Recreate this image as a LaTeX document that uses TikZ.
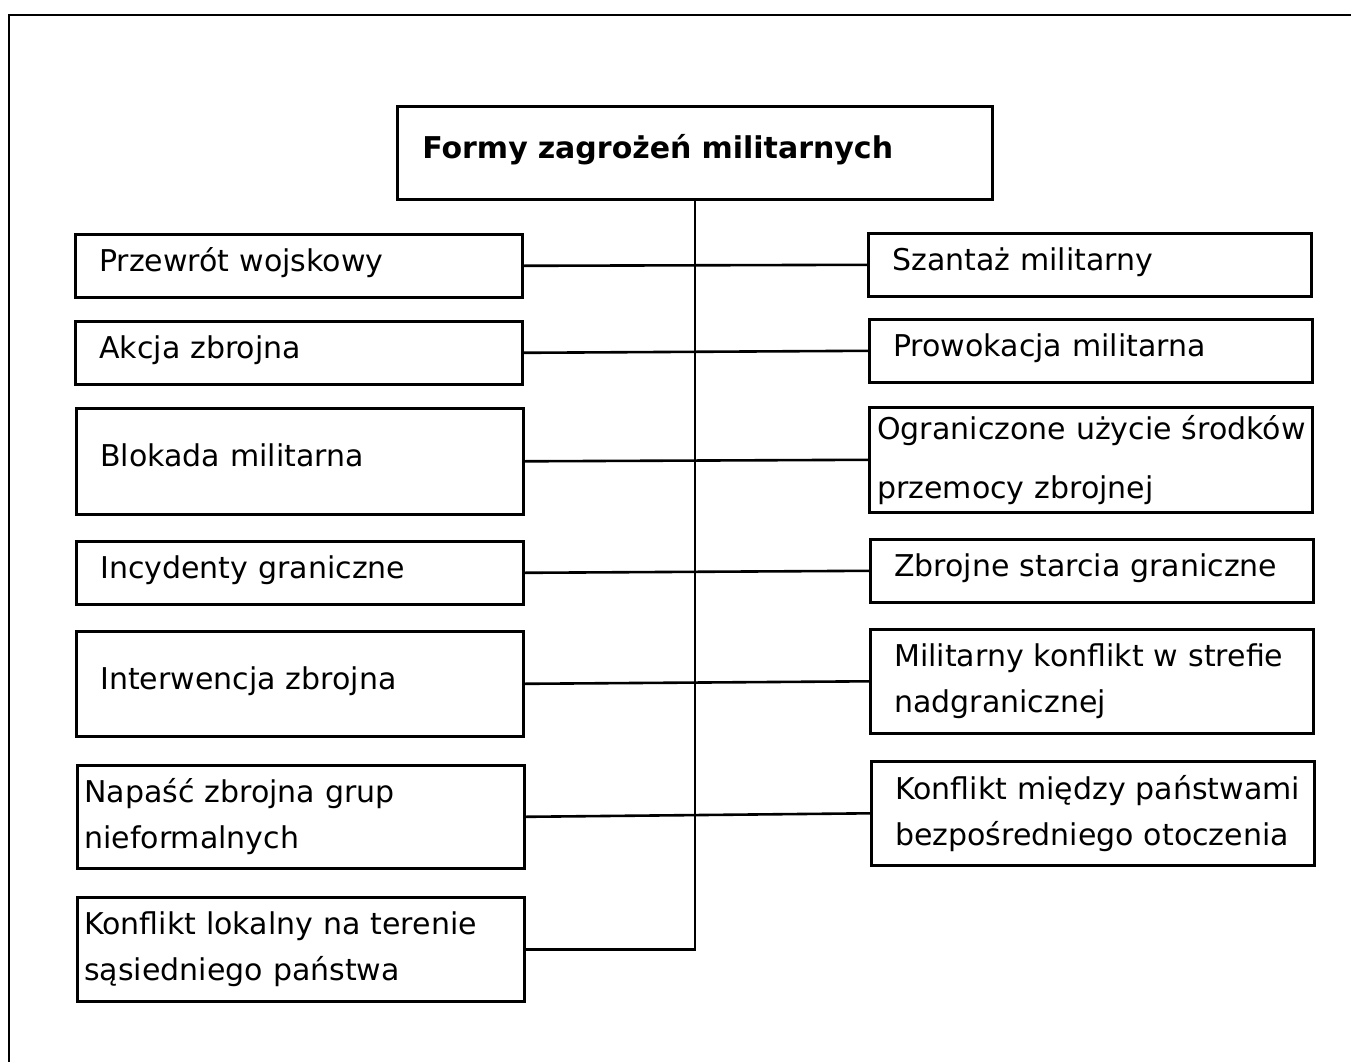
\documentclass[tikz,border=0pt]{standalone}
\usepackage{fontspec}
\setmainfont{DejaVu Sans}
\begin{document}
\begin{tikzpicture}[x=1pt,y=-1pt,
  lw/.style={line width=2.6pt},
  box/.style={draw,lw,anchor=north west,align=left,inner ysep=0pt,
    font=\fontsize{30}{46}\selectfont},
  one/.style={text height=20pt,text depth=9pt},
  lbox/.style={box,inner xsep=24pt,text width=399pt},
  nbox/.style={box,inner xsep=7pt,text width=433pt},
  rbox/.style={box,inner xsep=24pt,text width=395pt},
  conn/.style={lw}]
\useasboundingbox (0,0) rectangle (1351,1062);
\draw[lw] (9,1062) -- (9,15) -- (1351,15);
% title
\node[draw,lw,anchor=north west,minimum height=93pt,inner xsep=25pt,text width=545pt,align=left,
  text height=20pt,text depth=9pt,
  font=\bfseries\fontsize{30}{36}\selectfont] (title) at (396,105) {Formy zagrożeń militarnych};
% left column
\node[lbox,one,minimum height=63pt] (l1) at (74,233) {Przewrót wojskowy};
\node[lbox,one,minimum height=63pt] (l2) at (74,320) {Akcja zbrojna};
\node[lbox,one,minimum height=106pt] (l3) at (75,407) {Blokada militarna};
\node[lbox,one,minimum height=63pt] (l4) at (75,540) {Incydenty graniczne};
\node[lbox,one,minimum height=105pt] (l5) at (75,630) {Interwencja zbrojna};
\node[nbox,minimum height=103pt] (l6) at (76,764) {\mbox{Napaść zbrojna grup}\\\mbox{nieformalnych}};
\node[nbox,minimum height=104pt] (l7) at (76,896) {\mbox{Konflikt lokalny na terenie}\\\mbox{sąsiedniego państwa}};
% right column
\node[rbox,one,minimum height=63pt] (r1) at (867,232) {Szantaż militarny};
\node[rbox,one,minimum height=63pt] (r2) at (868,318) {Prowokacja militarna};
\node[box,inner xsep=8pt,text width=427pt,minimum height=105pt] (r3) at (868,406)
  {\mbox{Ograniczone użycie środków}\\[13pt]\mbox{przemocy zbrojnej}};
\node[rbox,one,minimum height=63pt] (r4) at (869,538) {Zbrojne starcia graniczne};
\node[rbox,minimum height=104pt] (r5) at (869,628) {\mbox{Militarny konflikt w strefie}\\\mbox{nadgranicznej}};
\node[rbox,minimum height=104pt] (r6) at (870,760) {\mbox{Konflikt między państwami}\\\mbox{bezpośredniego otoczenia}};
% connectors
\draw[conn] (title.south) -- (title.south |- l7.east) -- (l7.east);
\draw[conn] (l1.east) -- (r1.west);
\draw[conn] (l2.east) -- (r2.west);
\draw[conn] (l3.east) -- (r3.west);
\draw[conn] (l4.east) -- (r4.west);
\draw[conn] (l5.east) -- (r5.west);
\draw[conn] (l6.east) -- (r6.west);
\end{tikzpicture}
\end{document}
